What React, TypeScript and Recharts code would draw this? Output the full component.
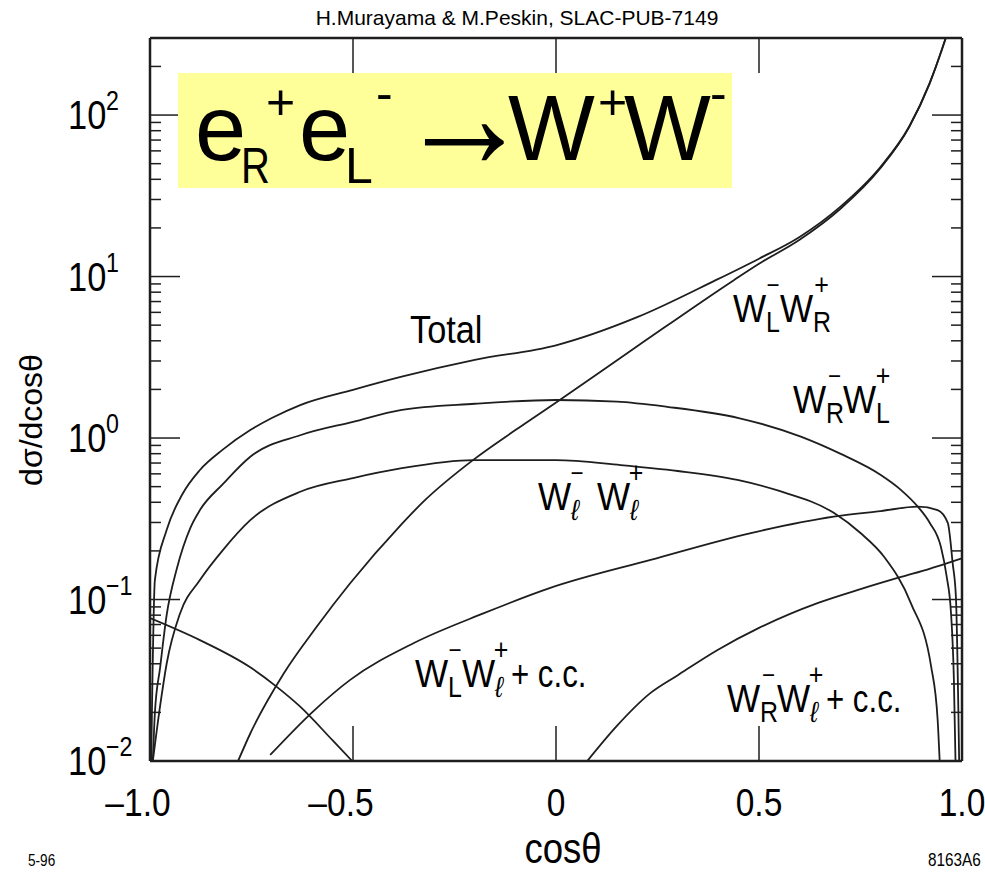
import React from "react";
import { LineChart, Line, XAxis, YAxis } from "recharts";

// cos(theta) samples and d sigma / d cos(theta) readings per curve
const totalCos = [-0.997, -0.988, -0.959, -0.92, -0.877, -0.82, -0.753, -0.7, -0.63, -0.5, -0.38, -0.2, 0, 0.2, 0.39, 0.5, 0.6, 0.7, 0.8, 0.87, 0.92, 0.95, 0.96];
const totalVal = [0.01, 0.132, 0.269, 0.45, 0.634, 0.85, 1.12, 1.33, 1.6, 1.99, 2.4, 3.05, 3.75, 5.6, 9.4, 12.9, 17.6, 27, 48, 85, 157, 252, 300];

const lrCos = [-0.783, -0.753, -0.671, -0.589, -0.507, -0.383, -0.326, -0.203, -0.1, 0.003, 0.2, 0.438, 0.5, 0.6, 0.7, 0.8, 0.87, 0.92, 0.96];
const lrVal = [0.01, 0.0148, 0.0347, 0.068, 0.126, 0.288, 0.405, 0.735, 1.12, 1.68, 3.7, 9.5, 12.0, 16.9, 26.2, 47.2, 84.3, 156, 300];

const rlCos = [-0.993, -0.988, -0.975, -0.959, -0.934, -0.9, -0.877, -0.82, -0.753, -0.63, -0.5, -0.383, -0.2, 0, 0.15, 0.274, 0.45, 0.603, 0.7, 0.8, 0.85, 0.891, 0.92, 0.948, 0.962, 0.973, 0.98, 0.984];
const rlVal = [0.01, 0.0198, 0.038, 0.08, 0.155, 0.28, 0.358, 0.52, 0.766, 1.04, 1.26, 1.49, 1.63, 1.72, 1.68, 1.56, 1.33, 1.02, 0.8, 0.59, 0.476, 0.376, 0.3, 0.212, 0.14, 0.082, 0.032, 0.01];

const llCos = [-0.993, -0.975, -0.959, -0.926, -0.877, -0.82, -0.753, -0.63, -0.5, -0.383, -0.203, 0, 0.159, 0.3, 0.447, 0.55, 0.684, 0.75, 0.808, 0.874, 0.924, 0.94, 0.945];
const llVal = [0.01, 0.022, 0.04, 0.082, 0.132, 0.203, 0.31, 0.465, 0.565, 0.648, 0.73, 0.73, 0.68, 0.625, 0.55, 0.47, 0.344, 0.258, 0.184, 0.095, 0.0384, 0.018, 0.01];

const lwCos = [-0.704, -0.6, -0.507, -0.35, -0.179, -0.014, 0.233, 0.48, 0.684, 0.8, 0.891, 0.94, 0.965, 0.977, 0.985, 0.993];
const lwVal = [0.0109, 0.0201, 0.0318, 0.0538, 0.082, 0.118, 0.176, 0.258, 0.326, 0.353, 0.376, 0.358, 0.298, 0.168, 0.104, 0.01];

const rwCos = [0.077, 0.15, 0.233, 0.3, 0.398, 0.5, 0.644, 0.75, 0.85, 0.92, 0.973, 1.0];
const rwVal = [0.01, 0.0165, 0.0264, 0.034, 0.0487, 0.0667, 0.095, 0.116, 0.138, 0.155, 0.171, 0.18];

const backCos = [-1.0, -0.877, -0.753, -0.69, -0.63, -0.55, -0.502];
const backVal = [0.0767, 0.056, 0.038, 0.0291, 0.0217, 0.0134, 0.01];

const xTicks = [-1, -0.5, 0, 0.5, 1];
const xTickLabels = ["\u20131.0", "\u20130.5", "0", "0.5", "1.0"];
const yTicks = [
  0.01, 0.02, 0.03, 0.04, 0.05, 0.06, 0.07, 0.08, 0.09,
  0.1, 0.2, 0.3, 0.4, 0.5, 0.6, 0.7, 0.8, 0.9,
  1, 2, 3, 4, 5, 6, 7, 8, 9,
  10, 20, 30, 40, 50, 60, 70, 80, 90,
  100, 200,
];
const yMajor = [0.01, 0.1, 1, 10, 100];
const yExp = ["\u22122", "\u22121", "0", "1", "2"];

const zip = (c: number[], v: number[]) => c.map((x, i) => ({ c: x, v: v[i] }));

const SANS = "'Liberation Sans', Arial, Helvetica, sans-serif";
const INK = "#1e1e1e";

const majorIndex = (v: number) => yMajor.findIndex((m) => Math.abs(m - v) / m < 1e-6);

// squeezed text, the original uses a narrow Helvetica
function T({ x, y, size, sx = 0.86, anchor, italic, children }: any) {
  return (
    <text transform={`translate(${x} ${y}) scale(${sx} 1)`} fontSize={size} textAnchor={anchor}
      fontFamily={SANS} fontStyle={italic ? "italic" : "normal"} fill="#000">
      {children}
    </text>
  );
}

function BottomTick(props: any) {
  const { x, y, payload } = props;
  const i = xTicks.indexOf(payload.value);
  const edge = payload.value === -1 || payload.value === 1;
  const neg = payload.value < 0;
  return (
    <g>
      {!edge && <line x1={x} y1={y} x2={x} y2={y - 35} stroke={INK} strokeWidth={1.5} />}
      <T x={x + (neg ? -12 : 0)} y={y + 55} size={39} anchor="middle">{xTickLabels[i]}</T>
    </g>
  );
}

function TopTick(props: any) {
  const { x, y, payload } = props;
  if (payload.value === -1 || payload.value === 1) return <g />;
  return <line x1={x} y1={y} x2={x} y2={y + 35} stroke={INK} strokeWidth={1.5} />;
}

function LeftTick(props: any) {
  const { x, y, payload } = props;
  const k = majorIndex(payload.value);
  const major = k >= 0;
  return (
    <g>
      <line x1={x} y1={y} x2={x + (major ? 30 : 11)} y2={y} stroke={INK} strokeWidth={1.5} />
      {major && (
        <g>
          <T x={x - 82} y={y + 14} size={40}>10</T>
          <T x={x - 44} y={y - 5} size={27}>{yExp[k]}</T>
        </g>
      )}
    </g>
  );
}

function RightTick(props: any) {
  const { x, y, payload } = props;
  const major = majorIndex(payload.value) >= 0;
  return <line x1={x} y1={y} x2={x - (major ? 30 : 11)} y2={y} stroke={INK} strokeWidth={1.5} />;
}

const subW: Record<string, number> = { L: 14, R: 17, "\u2113": 12 };

// W^-_a W^+_b labels, sign stacked over the subscript
function Pair({ x, y, s1, s2, gap = 0, tail }: { x: number; y: number; s1: string; s2: string; gap?: number; tail?: string }) {
  const w2 = x + 33 + subW[s1] + gap;
  return (
    <g>
      <T x={x} y={y} size={39} sx={0.9}>W</T>
      <T x={x + 33} y={y + 10} size={29} italic={s1 === "\u2113"}>{s1}</T>
      <T x={x + 33 + subW[s1] / 2} y={y - 28} size={26} anchor="middle">{"\u2212"}</T>
      <T x={w2} y={y} size={39} sx={0.9}>W</T>
      <T x={w2 + 33} y={y + 10} size={29} italic={s2 === "\u2113"}>{s2}</T>
      <T x={w2 + 33 + subW[s2] / 2} y={y - 27} size={29} anchor="middle">+</T>
      {tail && <T x={w2 + 33 + subW[s2] + 4} y={y} size={39} sx={0.8}>{tail}</T>}
    </g>
  );
}

export default function App() {
  const series = [
    zip(totalCos, totalVal),
    zip(lrCos, lrVal),
    zip(rlCos, rlVal),
    zip(llCos, llVal),
    zip(lwCos, lwVal),
    zip(rwCos, rwVal),
    zip(backCos, backVal),
  ];
  return (
    <div style={{ position: "absolute", left: 0, top: 0, width: 985, height: 872, overflow: "hidden", background: "#fff" }}>
      <LineChart width={985} height={872} margin={{ top: 8, right: 0, bottom: 81, left: 90 }}>
        <XAxis xAxisId="b" type="number" dataKey="c" domain={[-1, 1]} ticks={xTicks} interval={0} allowDataOverflow
          orientation="bottom" height={30} tickSize={0} tickMargin={0} tickLine={false}
          axisLine={{ stroke: INK, strokeWidth: 2.5 }} tick={(p: any) => <BottomTick {...p} />} />
        <XAxis xAxisId="t" type="number" dataKey="c" domain={[-1, 1]} ticks={xTicks} interval={0} allowDataOverflow
          orientation="top" height={30} tickSize={0} tickMargin={0} tickLine={false}
          axisLine={{ stroke: INK, strokeWidth: 2.5 }} tick={(p: any) => <TopTick {...p} />} />
        <YAxis yAxisId="l" type="number" scale="log" domain={[0.01, 300]} ticks={yTicks} interval={0} allowDataOverflow
          width={60} tickSize={0} tickMargin={0} tickLine={false}
          axisLine={{ stroke: INK, strokeWidth: 2.5 }} tick={(p: any) => <LeftTick {...p} />} />
        <YAxis yAxisId="r" orientation="right" type="number" scale="log" domain={[0.01, 300]} ticks={yTicks} interval={0} allowDataOverflow
          width={23} tickSize={0} tickMargin={0} tickLine={false}
          axisLine={{ stroke: INK, strokeWidth: 2.5 }} tick={(p: any) => <RightTick {...p} />} />
        {series.map((d, i) => (
          <Line key={i} xAxisId="b" yAxisId="l" data={d} dataKey="v" type="monotone" stroke={INK}
            strokeWidth={1.8} dot={false} activeDot={false} isAnimationActive={false} />
        ))}
      </LineChart>

      <svg width={985} height={872} style={{ position: "absolute", left: 0, top: 0, pointerEvents: "none" }}>
        <text x={517} y={25} textAnchor="middle" fontSize={21} fontFamily={SANS}>H.Murayama &amp; M.Peskin, SLAC-PUB-7149</text>

        <rect x={178} y={73} width={554} height={115} fill="#FFFF99" />
        <g fontFamily={SANS} fill="#000">
          <text x={195} y={160} fontSize={92}>e</text>
          <text transform="translate(241 183) scale(0.8 1)" fontSize={50}>R</text>
          <text x={266} y={119} fontSize={50}>+</text>
          <text x={299} y={160} fontSize={92}>e</text>
          <text x={345} y={183} fontSize={50}>L</text>
          <text x={376} y={110} fontSize={50}>-</text>
          <text transform="translate(398 168) scale(0.95 1.1)" fontSize={140}>{"\u2192"}</text>
          <text x={508} y={160} fontSize={92}>W</text>
          <text x={598} y={119} fontSize={50}>+</text>
          <text x={624} y={160} fontSize={92}>W</text>
          <text x={710} y={110} fontSize={50}>-</text>
        </g>

        <T x={410} y={343} size={39} sx={0.88}>Total</T>
        <Pair x={733} y={322} s1="L" s2="R" />
        <Pair x={793} y={413} s1="R" s2="L" />
        <Pair x={538} y={510} s1={"\u2113"} s2={"\u2113"} gap={14} />
        <Pair x={415} y={687} s1="L" s2={"\u2113"} tail="+ c.c." />
        <Pair x={727} y={712} s1="R" s2={"\u2113"} tail=" + c.c." />

        <text transform="translate(42,420) rotate(-90)" textAnchor="middle" fontSize={32} fontFamily={SANS}>d{"\u03c3"}/dcos{"\u03b8"}</text>
        <T x={563} y={863} size={42} sx={0.87} anchor="middle">cos{"\u03b8"}</T>
        <T x={28} y={866} size={16} sx={0.85}>5-96</T>
        <T x={928} y={866} size={18} sx={0.85}>8163A6</T>
      </svg>
    </div>
  );
}
